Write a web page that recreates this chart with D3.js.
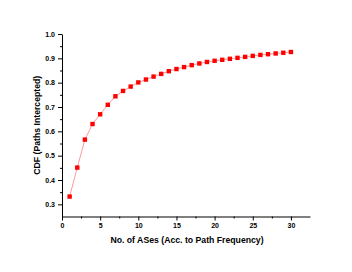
<!DOCTYPE html>
<html>
<head>
<meta charset="utf-8">
<script src="https://cdn.jsdelivr.net/npm/d3@7"></script>
<style>
  body { margin: 0; background: #fff; }
  text { font-family: "Liberation Sans", Arial, sans-serif; font-weight: bold; }
</style>
</head>
<body>
<div id="chart"></div>
<script>
var ases = d3.range(1, 31);
var cdf = [0.332, 0.451, 0.566, 0.630, 0.670, 0.709, 0.744, 0.766, 0.784, 0.801,
           0.813, 0.825, 0.836, 0.847, 0.856, 0.864, 0.872, 0.879, 0.885, 0.890,
           0.894, 0.898, 0.902, 0.906, 0.910, 0.914, 0.917, 0.920, 0.923, 0.926];
var xTicks = [0, 5, 10, 15, 20, 25, 30];
var yTicks = [0.3, 0.4, 0.5, 0.6, 0.7, 0.8, 0.9, 1.0];

var W = 352, H = 272;
var margin = {top: 34, right: 42, bottom: 55.5, left: 62};
var width = W - margin.left - margin.right,
    height = H - margin.top - margin.bottom;

var x = d3.scaleLinear().domain([0, 32.5]).range([0, width]);
var y = d3.scaleLinear().domain([0.25, 1.0]).range([height, 0]);

var svg = d3.select("#chart").append("svg")
    .attr("width", W).attr("height", H)
  .append("g")
    .attr("transform", "translate(" + margin.left + "," + margin.top + ")");

// minor ticks
svg.append("g")
    .attr("transform", "translate(0," + height + ")")
    .call(d3.axisBottom(x).tickValues(d3.range(2.5, 32.5, 5)).tickSize(2).tickFormat(""))
    .call(function(g) { g.select(".domain").remove(); });
svg.append("g")
    .call(d3.axisLeft(y).tickValues(d3.range(0.35, 1.0, 0.1)).tickSize(2).tickFormat(""))
    .call(function(g) { g.select(".domain").remove(); });

var xAxis = svg.append("g")
    .attr("transform", "translate(0," + height + ")")
    .call(d3.axisBottom(x).tickValues(xTicks).tickSize(4).tickSizeOuter(0).tickPadding(3));
var yAxis = svg.append("g")
    .call(d3.axisLeft(y).tickValues(yTicks).tickFormat(d3.format(".1f")).tickSize(4).tickSizeOuter(0).tickPadding(3));

[xAxis, yAxis].forEach(function(a) {
    a.selectAll("text").style("font-size", "7px").attr("fill", "#000");
    a.selectAll("line, path").attr("stroke", "#000").attr("stroke-width", 1);
});

var line = d3.line()
    .x(function(d, i) { return x(ases[i]); })
    .y(function(d) { return y(d); });

svg.append("path")
    .datum(cdf)
    .attr("fill", "none")
    .attr("stroke", "#ff8080")
    .attr("stroke-width", 0.8)
    .attr("d", line);

svg.selectAll(".dot")
    .data(cdf)
  .enter().append("rect")
    .attr("x", function(d, i) { return x(ases[i]) - 2.2; })
    .attr("y", function(d) { return y(d) - 2.2; })
    .attr("width", 4.4).attr("height", 4.4)
    .attr("fill", "#ff0000");

svg.append("text")
    .attr("x", width / 2 + 1).attr("y", height + 26.5)
    .attr("text-anchor", "middle")
    .style("font-size", "8.7px")
    .text("No. of ASes (Acc. to Path Frequency)");

svg.append("text")
    .attr("transform", "translate(-22," + (height / 2) + ") rotate(-90)")
    .attr("text-anchor", "middle")
    .style("font-size", "8.7px")
    .text("CDF (Paths Intercepted)");
</script>
</body>
</html>
